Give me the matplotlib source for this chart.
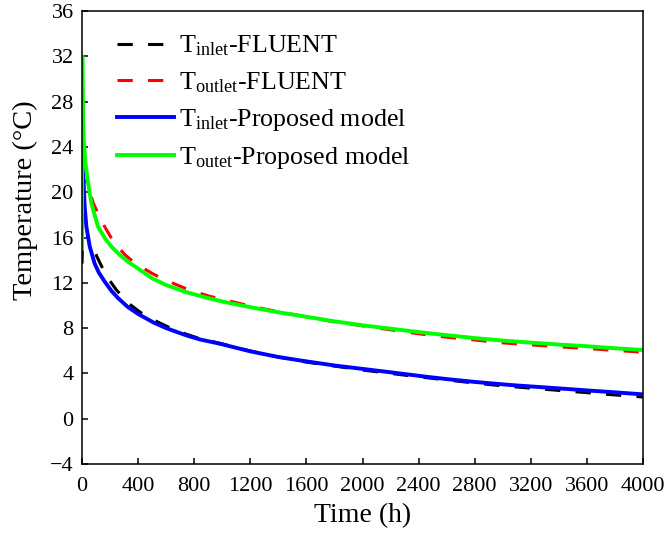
import matplotlib
matplotlib.use("Agg")
import matplotlib.pyplot as plt

plt.rcParams['font.family'] = ['Liberation Serif', 'DejaVu Serif']
plt.rcParams['mathtext.fontset'] = 'custom'
plt.rcParams['mathtext.rm'] = 'Liberation Serif'
plt.rcParams['mathtext.it'] = 'Liberation Serif:italic'

# FLUENT results
t_in_fluent = [0, 2, 70, 95, 138, 180, 243, 330, 415, 530, 615, 735, 820, 1000, 1200,
               1400, 1600, 2000, 2400, 2800, 3000, 3200, 3400, 3600, 3800, 4000]
T_in_fluent = [13.7, 15.0, 14.95, 14.6, 13.5, 12.5, 11.4, 10.2, 9.4, 8.6, 8.1, 7.5, 7.15, 6.6, 5.98,
               5.45, 5.0, 4.3, 3.7, 3.15, 2.9, 2.7, 2.5, 2.3, 2.1, 1.92]

t_out_fluent = [0, 2, 40, 78, 126, 164, 221, 304, 376, 497, 575, 699, 782, 913, 984, 1200,
                1400, 1600, 1800, 2000, 2200, 2400, 2600, 2800, 3000, 3200, 3400, 3600, 3800, 4000]
T_out_fluent = [15.0, 21.2, 20.8, 19.1, 17.8, 16.9, 15.7, 14.5, 13.75, 12.85, 12.35, 11.7, 11.3, 10.8, 10.6, 9.95,
                9.45, 9.0, 8.55, 8.2, 7.85, 7.5, 7.2, 6.95, 6.7, 6.52, 6.35, 6.2, 6.03, 5.88]

# proposed model
t_in_model = [0, 7, 19, 31, 55, 90, 120, 162, 209, 257, 328, 400, 509, 600, 746, 841, 984, 1200,
              1400, 1554, 1800, 2000, 2200, 2446, 2600, 2800, 3052, 3200, 3400, 3600, 3800, 4000]
T_in_model = [22.3, 22.0, 18.7, 16.95, 15.2, 13.7, 12.9, 12.1, 11.3, 10.65, 9.85, 9.25, 8.5, 8.0, 7.35, 7.0, 6.62, 5.95,
              5.45, 5.15, 4.7, 4.4, 4.1, 3.72, 3.5, 3.25, 2.98, 2.85, 2.68, 2.5, 2.33, 2.15]

t_out_model = [0, 2, 4, 7, 12, 25, 43, 67, 114, 160, 209, 270, 328, 400, 500, 600, 750, 900, 1000, 1200,
               1400, 1600, 1800, 2000, 2200, 2400, 2600, 2800, 3000, 3200, 3400, 3600, 3800, 4000]
T_out_model = [15.0, 32.0, 29.0, 26.5, 24.6, 22.5, 20.8, 19.0, 16.95, 16.0, 15.2, 14.45, 13.86, 13.25, 12.4, 11.8, 11.15, 10.65, 10.35, 9.85,
               9.4, 9.0, 8.6, 8.25, 7.95, 7.65, 7.38, 7.12, 6.9, 6.72, 6.55, 6.4, 6.22, 6.07]

x_ticks = list(range(0, 4001, 400))
y_ticks = list(range(-4, 37, 4))

fig = plt.figure(figsize=(6.68, 5.38), dpi=100)
ax = fig.add_axes([0.1228, 0.1375, 0.8398, 0.842])

ax.plot(t_in_fluent, T_in_fluent, color='black', lw=2.2, ls=(0, (5, 5)),
        label=r'T$_{\mathrm{inlet}}$-FLUENT')
ax.plot(t_out_fluent, T_out_fluent, color='#ff0000', lw=2.2, ls=(0, (5, 5)),
        label=r'T$_{\mathrm{outlet}}$-FLUENT')
ax.plot(t_in_model, T_in_model, color='#0000ff', lw=2.8,
        label=r'T$_{\mathrm{inlet}}$-Proposed model')
ax.plot(t_out_model, T_out_model, color='#00ff00', lw=2.8,
        label=r'T$_{\mathrm{outet}}$-Proposed model')

ax.set_xlim(0, 4000)
ax.set_ylim(-4, 36)
ax.set_xticks(x_ticks)
ax.set_yticks(y_ticks)
ax.tick_params(direction='in', length=4, width=1.1, labelsize=16)
ax.tick_params(axis='x', pad=9)
ax.tick_params(axis='y', pad=6)
for s in ax.spines.values():
    s.set_linewidth(1.1)

ax.set_xlabel('Time (h)', fontsize=20)
ax.set_ylabel('Temperature (°C)', fontsize=20.5)
ax.xaxis.set_label_coords(0.5, -0.086)
ax.yaxis.set_label_coords(-0.078, 0.583)

ax.legend(loc='upper left', frameon=False, fontsize=18.7, handlelength=2.2,
          handletextpad=0.2, labelspacing=0.47, borderpad=0, borderaxespad=0,
          bbox_to_anchor=(0.062, 0.95))

fig.savefig('out.png', dpi=100)
